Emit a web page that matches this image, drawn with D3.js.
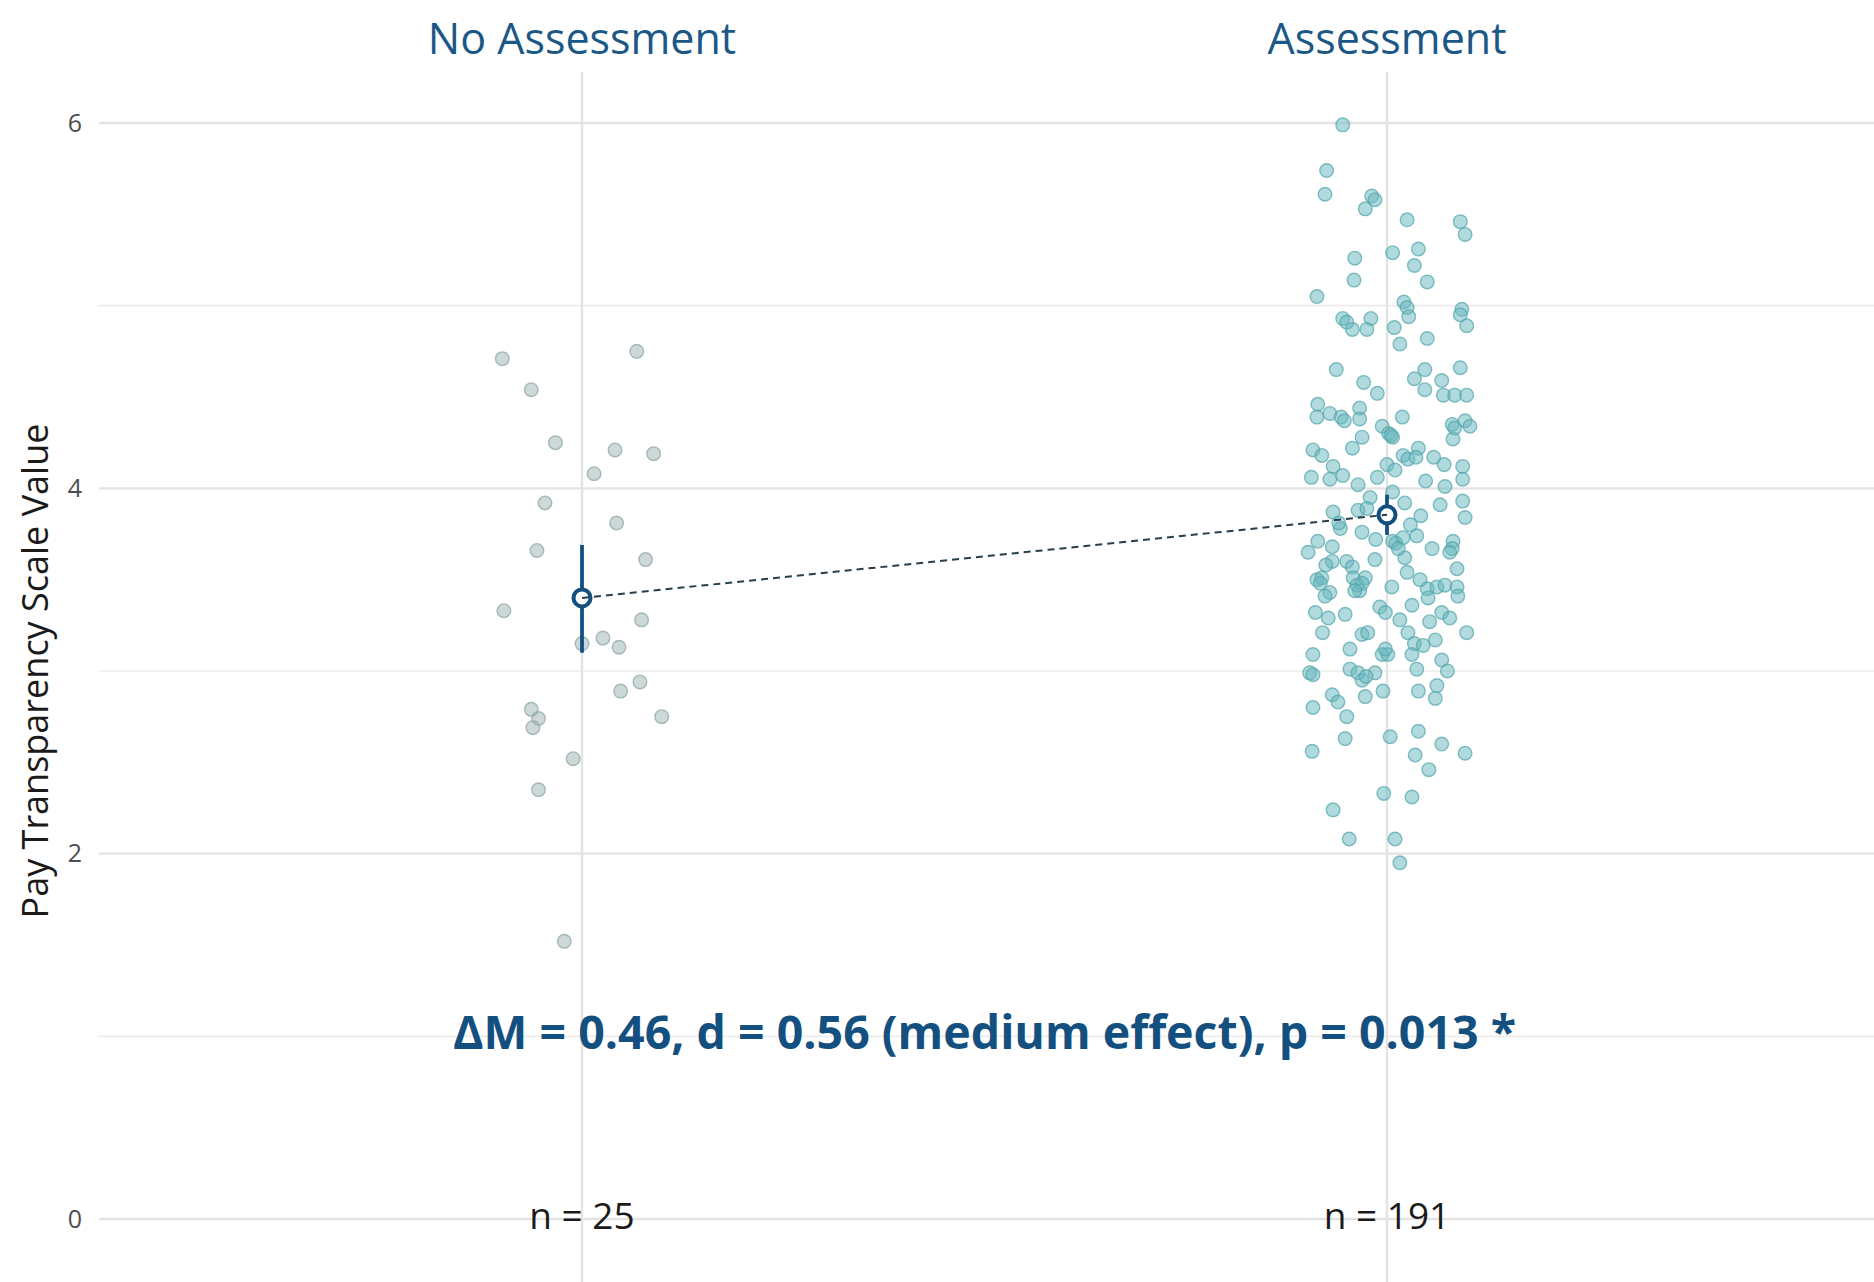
<!DOCTYPE html>
<html>
<head>
<meta charset="utf-8">
<script src="https://cdn.jsdelivr.net/npm/d3@7"></script>
<style>
  body { margin: 0; background: #fff; }
  svg { display: block; font-family: 'Open Sans', 'Noto Sans', sans-serif; }
</style>
</head>
<body>
<svg id="chart" width="1874" height="1282"></svg>
<script>
const groups = ['No Assessment', 'Assessment'];
const groupN = [25, 191];
const groupMeans = [3.40, 3.855];
const ciLow = [3.10, 3.745];
const ciHigh = [3.69, 3.965];
const yTicks = [0, 2, 4, 6];
const yMinor = [1, 3, 5];
const statLabel = 'ΔM = 0.46, d = 0.56 (medium effect), p = 0.013 *';
const yTitle = 'Pay Transparency Scale Value';

// scale values per respondent, and their horizontal jitter (share of the category step)
const noAssessValues = [4.71, 4.54, 4.75, 4.25, 4.21, 4.19, 4.08, 3.92, 3.81, 3.66, 3.61, 3.33, 3.28,
  3.18, 3.13, 3.15, 2.79, 2.74, 2.69, 2.94, 2.89, 2.75, 2.52, 2.35, 1.52];
const noAssessJitter = [-0.099, -0.063, 0.068, -0.033, 0.041, 0.089, 0.015, -0.046, 0.043, -0.056, 0.079, -0.097, 0.074,
  0.026, 0.046, 0.000, -0.063, -0.054, -0.061, 0.072, 0.048, 0.099, -0.011, -0.054, -0.022];

const assessValues = [5.99, 5.74, 5.61, 5.60, 5.58, 5.53, 5.47, 5.46, 5.39, 5.26, 5.29, 5.31, 5.22, 5.14, 5.13,
  5.05, 5.02, 4.99, 4.94, 4.98, 4.95, 4.89, 4.93, 4.91, 4.87, 4.93, 4.87, 4.88, 4.79, 4.82,
  4.65, 4.65, 4.66, 4.60, 4.58, 4.52, 4.54, 4.59, 4.51, 4.51, 4.51, 4.46, 4.39, 4.41, 4.39, 4.37,
  4.44, 4.38, 4.39, 4.34, 4.30, 4.28, 4.35, 4.37, 4.34, 4.27, 4.28, 4.22, 4.21, 4.18, 4.18, 4.16,
  4.22, 4.17, 4.17, 4.13, 4.13, 4.12, 4.07, 4.06, 4.06, 4.12, 4.05, 4.04, 4.01, 4.02, 3.95, 3.98,
  3.87, 3.88, 3.89, 3.92, 3.85, 3.93, 3.84, 3.78, 3.76, 3.71, 3.68, 3.72, 3.71, 3.70, 3.73, 3.74,
  3.67, 3.71, 3.67, 3.65, 3.62, 3.60, 3.60, 3.57, 3.54, 3.56, 3.50, 3.51, 3.51, 3.51, 3.47, 3.44,
  3.46, 3.43, 3.41, 3.45, 3.46, 3.47, 3.46, 3.40, 3.41, 3.35, 3.32, 3.36, 3.32, 3.29, 3.32, 3.29, 3.27,
  3.21, 3.20, 3.21, 3.21, 3.21, 3.09, 3.09, 3.09, 3.15, 3.14, 3.09, 3.06, 3.00, 2.99, 2.98, 3.01,
  2.99, 2.95, 2.99, 3.01, 2.92, 2.87, 2.83, 2.86, 2.89, 2.89, 2.85, 2.80, 2.75, 2.67, 2.64, 2.63,
  2.60, 2.56, 2.54, 2.55, 2.46, 2.33, 2.31, 2.24, 2.08, 2.08, 1.95,
  4.29, 4.33, 3.48, 3.48, 3.44, 3.67, 3.12, 2.97, 3.65, 3.81, 3.80, 3.91, 3.58, 3.61, 3.50, 3.31,
  3.28, 4.05, 4.10, 3.17, 3.12];
const assessJitter = [-0.055, -0.075, -0.077, -0.019, -0.015, -0.027, 0.025, 0.091, 0.097, -0.040, 0.007, 0.039, 0.034, -0.041, 0.050,
  -0.087, 0.021, 0.025, 0.027, 0.093, 0.091, 0.099, -0.055, -0.050, -0.043, -0.020, -0.025, 0.009, 0.016, 0.050,
  -0.063, 0.047, 0.091, 0.034, -0.029, -0.012, 0.047, 0.068, 0.070, 0.084, 0.099, -0.086, -0.087, -0.071, -0.057, -0.053,
  -0.034, -0.034, 0.019, -0.006, 0.002, 0.007, 0.081, 0.097, 0.103, 0.082, -0.031, -0.043, -0.092, -0.081, 0.020, 0.026,
  0.039, 0.036, 0.058, 0.071, 0.000, -0.067, -0.055, -0.094, -0.012, 0.094, 0.094, 0.048, 0.072, -0.036, -0.021, 0.007,
  -0.067, -0.036, -0.025, 0.022, 0.042, 0.094, 0.097, -0.058, -0.031, -0.086, -0.068, -0.014, 0.007, 0.011, 0.020, 0.037,
  0.056, 0.082, 0.081, -0.098, 0.022, -0.068, -0.050, -0.043, 0.025, 0.087, -0.087, -0.081, -0.042, -0.027, -0.037, -0.034,
  0.006, -0.071, -0.077, 0.050, 0.062, 0.072, 0.087, 0.051, 0.088, -0.009, -0.002, 0.031, -0.089, -0.073, 0.068, 0.078, 0.053,
  -0.080, -0.031, -0.024, 0.026, 0.099, -0.092, -0.006, 0.001, 0.034, 0.045, 0.031, 0.068, 0.075, -0.096, -0.092, -0.046,
  -0.036, -0.031, -0.015, 0.037, 0.062, -0.068, -0.061, -0.027, -0.005, 0.039, 0.060, -0.092, -0.050, 0.039, 0.004, -0.052,
  0.068, -0.093, 0.035, 0.097, 0.052, -0.004, 0.031, -0.067, -0.047, 0.010, 0.016,
  0.005, 0.084, -0.083, -0.031, -0.040, 0.014, -0.002, -0.026, 0.078, -0.060, 0.029, 0.066, -0.076, -0.015, 0.041, -0.052,
  0.016, -0.071, 0.010, 0.060, -0.046];

const navy = '#14507f';
const svg = d3.select('#chart');

const x = d3.scalePoint()
    .domain(groups)
    .range([99, 1870])
    .padding(0.6);

const y = d3.scaleLinear()
    .domain([0, 6])
    .range([1219, 123]);

// grid
svg.append('g').selectAll('line')
    .data(yMinor)
    .enter().append('line')
    .attr('x1', 99).attr('x2', 1874)
    .attr('y1', d => y(d)).attr('y2', d => y(d))
    .attr('stroke', '#ececec').attr('stroke-width', 1.6);

svg.append('g').selectAll('line')
    .data(yTicks)
    .enter().append('line')
    .attr('x1', 99).attr('x2', 1874)
    .attr('y1', d => y(d)).attr('y2', d => y(d))
    .attr('stroke', '#e3e3e3').attr('stroke-width', 2.4);

svg.append('g').selectAll('line')
    .data(groups)
    .enter().append('line')
    .attr('x1', d => x(d)).attr('x2', d => x(d))
    .attr('y1', y(6.28)).attr('y2', 1282)
    .attr('stroke', '#e3e3e3').attr('stroke-width', 2.4);

// y axis
const yAxis = d3.axisLeft(y).tickValues(yTicks).tickFormat(d3.format('d')).tickSize(0).tickPadding(0);
const ga = svg.append('g').attr('transform', 'translate(82,0)').call(yAxis);
ga.select('.domain').remove();
ga.selectAll('text')
    .style('font-family', "'Open Sans', sans-serif")
    .style('font-size', '25px')
    .attr('fill', '#4d4d4d');

svg.append('text')
    .attr('transform', `translate(38,${y(3.0)}) rotate(-90)`)
    .attr('text-anchor', 'middle')
    .attr('dominant-baseline', 'middle')
    .style('font-size', '36px')
    .attr('fill', '#1a1a1a')
    .text(yTitle);

// group titles
svg.append('g').selectAll('text')
    .data(groups)
    .enter().append('text')
    .attr('x', d => x(d))
    .attr('y', 54)
    .attr('text-anchor', 'middle')
    .style('font-size', '43px')
    .attr('fill', '#1b5886')
    .text(d => d);

// points
const pointSets = [
  { g: groups[0], v: noAssessValues, j: noAssessJitter, fill: '#9fb6b6', stroke: '#8aa3a3' },
  { g: groups[1], v: assessValues, j: assessJitter, fill: '#68b8bd', stroke: '#52a5ab' }
];
pointSets.forEach(set => {
  svg.append('g').selectAll('circle')
    .data(set.v)
    .enter().append('circle')
    .attr('cx', (d, i) => x(set.g) + set.j[i] * x.step())
    .attr('cy', d => y(d))
    .attr('r', 6.8)
    .attr('fill', set.fill)
    .attr('fill-opacity', 0.52)
    .attr('stroke', set.stroke)
    .attr('stroke-opacity', 0.7)
    .attr('stroke-width', 1.4);
});

// error bars and means
svg.append('g').selectAll('line')
    .data(groups)
    .enter().append('line')
    .attr('x1', d => x(d)).attr('x2', d => x(d))
    .attr('y1', (d, i) => y(ciLow[i])).attr('y2', (d, i) => y(ciHigh[i]))
    .attr('stroke', navy).attr('stroke-width', 3.8);

svg.append('g').selectAll('circle')
    .data(groups)
    .enter().append('circle')
    .attr('cx', d => x(d))
    .attr('cy', (d, i) => y(groupMeans[i]))
    .attr('r', 8.5)
    .attr('fill', '#fff')
    .attr('stroke', navy)
    .attr('stroke-width', 4);

svg.append('path')
    .datum(groups)
    .attr('d', d3.line().x(d => x(d)).y((d, i) => y(groupMeans[i])))
    .attr('fill', 'none')
    .attr('stroke', '#263f4a')
    .attr('stroke-width', 2)
    .attr('stroke-dasharray', '7,5');

// stats annotation
svg.append('text')
    .attr('x', (x(groups[0]) + x(groups[1])) / 2)
    .attr('y', y(0.93))
    .attr('text-anchor', 'middle')
    .style('font-size', '46.5px')
    .style('font-weight', 'bold')
    .attr('fill', navy)
    .text(statLabel);

// n labels
svg.append('g').selectAll('text')
    .data(groups)
    .enter().append('text')
    .attr('x', d => x(d))
    .attr('y', y(0))
    .attr('dominant-baseline', 'middle')
    .attr('text-anchor', 'middle')
    .style('font-size', '37px')
    .attr('fill', '#1a1a1a')
    .text((d, i) => `n = ${groupN[i]}`);
</script>
</body>
</html>
